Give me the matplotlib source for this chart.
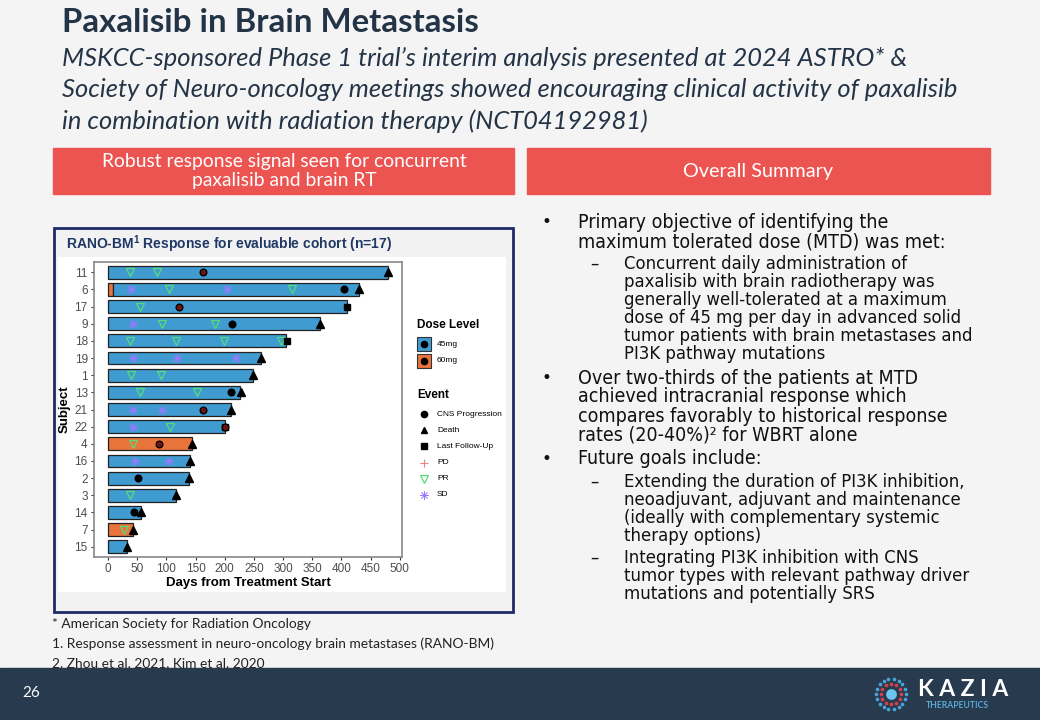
import numpy as np
import matplotlib.pyplot as plt
from matplotlib.patches import Rectangle

W, H = 1040, 720

# subjects, top to bottom
subjects = ['11', '6', '17', '9', '18', '19', '1', '13', '21', '22',
            '4', '16', '2', '3', '14', '7', '15']

# treatment segments (subject, start day, end day, dose)
seg_subject = ['11', '6', '6', '17', '9', '18', '19', '1', '13', '21',
               '22', '4', '16', '2', '3', '14', '7', '15']
seg_start = [0, 0, 8, 0, 0, 0, 0, 0, 0, 0, 0, 0, 0, 0, 0, 0, 0, 0]
seg_end = [480, 8, 430, 410, 363, 305, 262, 249, 227, 210,
           200, 144, 140, 138, 117, 56, 42, 32]
seg_dose = ['45mg', '60mg', '45mg', '45mg', '45mg', '45mg', '45mg', '45mg', '45mg', '45mg',
            '45mg', '60mg', '45mg', '45mg', '45mg', '45mg', '60mg', '45mg']

# events
cns_subject = ['11', '6', '17', '9', '13', '21', '22', '4', '2', '14']
cns_day = [162, 404, 122, 212, 211, 162, 200, 88, 52, 44]
death_subject = ['11', '6', '9', '19', '1', '13', '21', '4', '16', '2', '3', '14', '7', '15']
death_day = [480, 430, 363, 262, 249, 228, 210, 144, 140, 138, 117, 56, 42, 32]
lfu_subject = ['17', '18', '22']
lfu_day = [410, 306, 201]
pd_subject = ['11', '17', '21', '22', '4']
pd_day = [162, 122, 162, 200, 88]
pr_subject = ['11', '11', '6', '6', '17', '9', '9', '18', '18', '18', '18',
              '1', '1', '13', '13', '22', '4', '3', '7']
pr_day = [37, 84, 105, 315, 55, 93, 183, 38, 116, 198, 296,
          39, 91, 55, 152, 106, 42, 38, 27]
sd_subject = ['6', '6', '9', '19', '19', '19', '21', '21', '22', '16', '16', '2']
sd_day = [39, 204, 42, 43, 118, 220, 43, 93, 42, 46, 104, 52]

dose_colors = {'45mg': '#3f9bd0', '60mg': '#e8743b'}

bullets = [
    (1, True, 'Primary objective of identifying the', 222),
    (1, False, 'maximum tolerated dose (MTD) was met:', 242),
    (2, True, 'Concurrent daily administration of', 264),
    (2, False, 'paxalisib with brain radiotherapy was', 282),
    (2, False, 'generally well-tolerated at a maximum', 300),
    (2, False, 'dose of 45 mg per day in advanced solid', 318),
    (2, False, 'tumor patients with brain metastases and', 336),
    (2, False, 'PI3K pathway mutations', 354),
    (1, True, 'Over two-thirds of the patients at MTD', 378),
    (1, False, 'achieved intracranial response which', 397),
    (1, False, 'compares favorably to historical response', 416),
    (1, False, 'rates (20-40%)\u00b2 for WBRT alone', 435),
    (1, True, 'Future goals include:', 459),
    (2, True, 'Extending the duration of PI3K inhibition,', 482),
    (2, False, 'neoadjuvant, adjuvant and maintenance', 500),
    (2, False, '(ideally with complementary systemic', 518),
    (2, False, 'therapy options)', 536),
    (2, True, 'Integrating PI3K inhibition with CNS', 558),
    (2, False, 'tumor types with relevant pathway driver', 576),
    (2, False, 'mutations and potentially SRS', 594),
]

footnotes = ['* American Society for Radiation Oncology',
             '1. Response assessment in neuro-oncology brain metastases (RANO-BM)',
             '2. Zhou et al. 2021, Kim et al. 2020']

navy = '#243447'

fig = plt.figure(figsize=(W / 100, H / 100), dpi=100)
fig.patch.set_facecolor('#f4f4f4')

# background / slide layer in pixel coordinates
bg = fig.add_axes([0, 0, 1, 1], zorder=0)
bg.set_xlim(0, W)
bg.set_ylim(H, 0)
bg.axis('off')

bg.text(62, 23, 'Paxalisib in Brain Metastasis', family='Lato', weight='bold',
        size=23.8, color=navy, va='center')
sub = ['MSKCC-sponsored Phase 1 trial\u2019s interim analysis presented at 2024 ASTRO* &',
       'Society of Neuro-oncology meetings showed encouraging clinical activity of paxalisib',
       'in combination with radiation therapy (NCT04192981)']
for i, s in enumerate(sub):
    bg.text(62, 58 + 31.5 * i, s, family='Lato', style='italic', size=18.4,
            color=navy, va='center')

# section header boxes
bg.add_patch(Rectangle((53, 148), 461, 46, color='#eb5451'))
bg.add_patch(Rectangle((527, 148), 463, 46, color='#eb5451'))
bg.text(284, 171, 'Robust response signal seen for concurrent\npaxalisib and brain RT',
        family='Lato', size=13.9, color='white', ha='center', va='center', linespacing=1.15)
bg.text(758, 172, 'Overall Summary', family='Lato', size=14.3, color='white',
        ha='center', va='center')

# chart panel
bg.add_patch(Rectangle((54, 228), 459, 384, facecolor='#f2f2f2', edgecolor='#1f2a66', lw=2))
bg.add_patch(Rectangle((58, 257), 448, 335, facecolor='white', edgecolor='none'))
bg.text(66, 244, 'RANO-BM$^{\\mathregular{1}}$ Response for evaluable cohort (n=17)',
        family='Liberation Sans', weight='bold', size=10, color='#1f3864', va='center')

# bullet text
for level, mark, txt, y in bullets:
    if level == 1:
        if mark:
            bg.text(541, y, '\u2022', size=12, color='#111111', va='center',
                    family='DejaVu Sans')
        bg.text(578, y, txt, size=14, color='#111111', va='center',
                family='DejaVu Sans', fontstretch='condensed')
    else:
        if mark:
            bg.text(590, y, '\u2013', size=12, color='#111111', va='center',
                    family='DejaVu Sans')
        bg.text(624, y, txt, size=13.2, color='#111111', va='center',
                family='DejaVu Sans', fontstretch='condensed')

for i, s in enumerate(footnotes):
    bg.text(52, 624 + 19.5 * i, s, family='Lato', size=9.9, color='#222222', va='center')

# footer
bg.add_patch(Rectangle((0, 668), W, 52, color='#273a4e'))
bg.text(22, 693, '26', family='Lato', size=11, color='white', va='center')
cx, cy = 891, 694
for r, n, col, s in [(15, 18, '#4aa3da', 7), (10, 12, '#d9404c', 7)]:
    a = np.linspace(0, 2 * np.pi, n, endpoint=False)
    bg.scatter(cx + r * np.cos(a), cy + r * np.sin(a), s=s, color=col, lw=0)
bg.scatter([cx], [cy], s=60, color='#6cc4ef', lw=0)
bg.text(918, 690, 'K A Z I A', family='Lato', weight='bold', size=16.5, color='white',
        va='center')
bg.text(926, 705, 'THERAPEUTICS', family='Lato', weight='bold', size=6.2, color='#5aaad8',
        va='center')

# legend (drawn by hand to follow ggplot layout)
lf = 'Liberation Sans'
sd_color = '#9a78ff'
bg.text(417, 325, 'Dose Level', family=lf, weight='bold', size=8.5, va='center')
for i, d in enumerate(['45mg', '60mg']):
    y = 344 + 16.5 * i
    bg.add_patch(Rectangle((417, y - 7), 14, 14, facecolor=dose_colors[d],
                           edgecolor='#333333', lw=0.8))
    bg.plot(424, y, 'o', color='black', ms=4.5)
    bg.text(437, y, d, family=lf, size=6, va='center')
bg.text(417, 395, 'Event', family=lf, weight='bold', size=8.5, va='center')
ev_style = [
    ('CNS Progression', dict(marker='o', color='black', ms=4.5)),
    ('Death', dict(marker='^', color='black', ms=5)),
    ('Last Follow-Up', dict(marker='s', color='black', ms=4.2)),
    ('PD', dict(marker='+', color='#f08080', ms=6, mew=0.8)),
    ('PR', dict(marker='v', mfc='none', mec='#55dd77', ms=6, mew=0.9)),
    ('SD', dict(marker=(8, 2, 0), color=sd_color, ms=6, mew=0.5)),
]
for i, (lab, st) in enumerate(ev_style):
    y = 414 + 16.2 * i
    bg.plot(424, y, linestyle='none', **st)
    bg.text(437, y, lab, family=lf, size=6, va='center')

# the chart itself
ax = fig.add_axes([94 / W, 1 - 557 / H, (402 - 94) / W, (557 - 262) / H], zorder=2)
n = len(subjects)
ypos = {s: n - i for i, s in enumerate(subjects)}

for s, a, b, d in zip(seg_subject, seg_start, seg_end, seg_dose):
    ax.barh(ypos[s], b - a, left=a, height=0.75, color=dose_colors[d],
            edgecolor='#222222', lw=0.9, zorder=2)

def ys(lst):
    return [ypos[s] for s in lst]

ax.plot(pr_day, ys(pr_subject), linestyle='none', marker='v', mfc='none',
        mec='#55dd77', ms=6, mew=0.9, zorder=3)
ax.plot(sd_day, ys(sd_subject), linestyle='none', marker=(8, 2, 0),
        color=sd_color, ms=6.5, mew=0.5, zorder=3)
ax.plot(cns_day, ys(cns_subject), linestyle='none', marker='o', color='black',
        ms=4.8, zorder=4)
ax.plot(pd_day, ys(pd_subject), linestyle='none', marker='o', color='#7a1515',
        ms=2.8, alpha=0.9, zorder=5)
ax.plot(death_day, ys(death_subject), linestyle='none', marker='^', color='black',
        ms=5.5, zorder=4)
ax.plot(lfu_day, ys(lfu_subject), linestyle='none', marker='s', color='black',
        ms=4.5, zorder=4)

ax.set_xlim(-24, 504)
ax.set_ylim(0.4, 17.6)
ax.set_xticks(np.arange(0, 501, 50))
ax.set_yticks([ypos[s] for s in subjects])
ax.set_yticklabels(subjects)
for lbl in ax.get_xticklabels() + ax.get_yticklabels():
    lbl.set_family(lf)
    lbl.set_fontsize(8.5)
    lbl.set_color('#4d4d4d')
ax.tick_params(length=2.5, width=0.8, color='#333333', pad=2)
for sp in ax.spines.values():
    sp.set_color('#888888')
    sp.set_linewidth(1.2)
ax.set_xlabel('Days from Treatment Start', family=lf, weight='bold', size=9.5, labelpad=1)
ax.set_ylabel('Subject', family=lf, weight='bold', size=9.5, labelpad=3)

fig.savefig('out.png', dpi=100, facecolor=fig.get_facecolor())
